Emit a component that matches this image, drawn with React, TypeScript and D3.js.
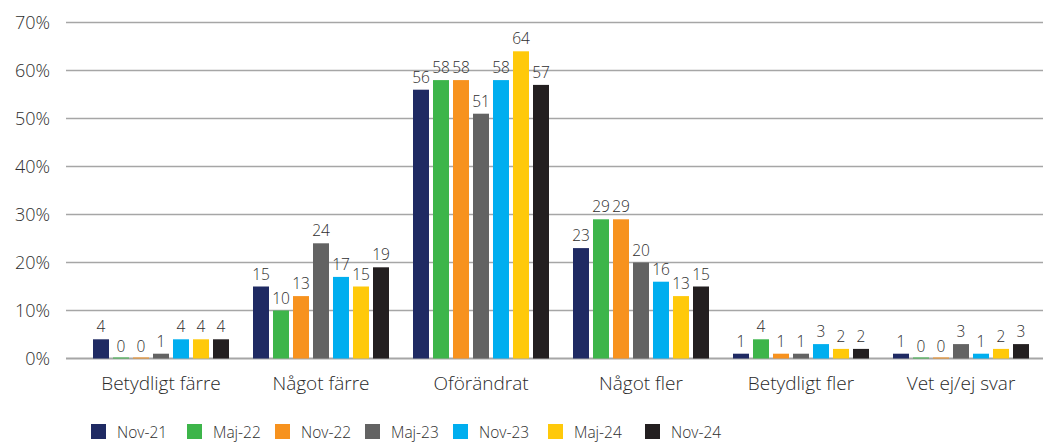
import React from "react";
import * as d3 from "d3";

const categories = ["Betydligt färre", "Något färre", "Oförändrat", "Något fler", "Betydligt fler", "Vet ej/ej svar"];
const seriesNames = ["Nov-21", "Maj-22", "Nov-22", "Maj-23", "Nov-23", "Maj-24", "Nov-24"];
const nov21 = [4, 15, 56, 23, 1, 1];
const maj22 = [0, 10, 58, 29, 4, 0];
const nov22 = [0, 13, 58, 29, 1, 0];
const maj23 = [1, 24, 51, 20, 1, 3];
const nov23 = [4, 17, 58, 16, 3, 1];
const maj24 = [4, 15, 64, 13, 2, 2];
const nov24 = [4, 19, 57, 15, 2, 3];
const seriesValues = [nov21, maj22, nov22, maj23, nov23, maj24, nov24];
const colors = ["#1f2a63", "#3db54a", "#f7921e", "#636363", "#00aeef", "#ffc90a", "#231f20"];
const yTicks = [0, 10, 20, 30, 40, 50, 60, 70];

const W = 1043;
const H = 442;
const FONT = "'Open Sans', sans-serif";

export default function App() {
  const y = d3.scaleLinear().domain([0, 70]).range([358.5, 22.5]);
  const x0 = d3.scaleBand<string>().domain(categories).range([81, 1041]).paddingInner(0).paddingOuter(0);
  const x1 = d3.scaleBand<string>().domain(seriesNames).range([10, 150]).paddingInner(0.2).paddingOuter(0.1);
  const gridX1 = 66;
  const gridX2 = 1043;

  const legendX = [91, 187, 275, 365, 453, 548, 645];

  return (
    <div style={{ position: "absolute", left: 0, top: 0 }}>
      <svg width={W} height={H} style={{ display: "block" }} fontFamily={FONT} fontWeight={300}>
        {yTicks.map((t) => (
          <g key={t}>
            <line x1={gridX1} x2={gridX2} y1={y(t)} y2={y(t)} stroke="#a6a6a6" strokeWidth={t === 0 ? 2 : 1.3} />
            <text x={50} y={y(t) + 6.5} textAnchor="end" fontSize={18} fill="#2e2e2e">{t}%</text>
          </g>
        ))}
        {categories.map((c, ci) => (
          <g key={c} transform={`translate(${x0(c)},0)`}>
            {seriesNames.map((s, si) => {
              const v = seriesValues[si][ci];
              const bx = x1(s)!;
              const bw = x1.bandwidth();
              const top = y(v);
              const h = Math.max(y(0) - top, 1);
              return (
                <g key={s}>
                  <rect x={bx} y={y(0) - h} width={bw} height={h} fill={colors[si]} />
                  <text x={bx + bw / 2} y={top - 7} textAnchor="middle" fontSize={15.5} fill="#2e2e2e">{v}</text>
                </g>
              );
            })}
            <text x={x0.bandwidth() / 2} y={390} textAnchor="middle" fontSize={19} fill="#2a2a2a">{c}</text>
          </g>
        ))}
        {seriesNames.map((s, si) => (
          <g key={s} transform={`translate(${legendX[si]},424)`}>
            <rect x={0} y={0} width={15} height={15} fill={colors[si]} />
            <text x={26} y={14} fontSize={15.5} fill="#2e2e2e">{s}</text>
          </g>
        ))}
      </svg>
    </div>
  );
}
